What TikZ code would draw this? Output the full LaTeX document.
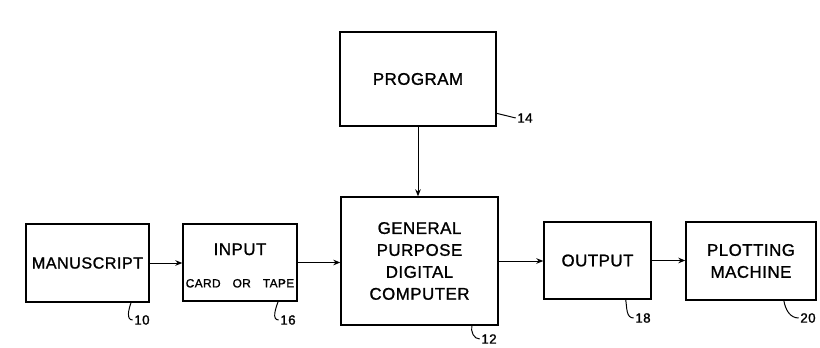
\documentclass[tikz,border=0pt]{standalone}
\usepackage{fontspec}
\setmainfont{Liberation Sans}[FakeBold=1.2,LetterSpace=3]
\usetikzlibrary{calc,arrows.meta}

\begin{document}
\begin{tikzpicture}[
    box/.style={draw,line width=1pt,inner sep=0pt,font=\fontsize{12}{15.6}\selectfont},
    arr/.style={line width=0.7pt,-{Stealth[length=5pt,width=4pt]}},
    lead/.style={line width=0.7pt},
    refnum/.style={inner sep=1pt,font=\fontsize{9.5}{10}\selectfont}]
        \useasboundingbox (0,0) rectangle (20.5,8.7);
        % blocks
        \node[box,minimum width=3.9cm,minimum height=2.35cm] (prog) at (10.45,6.725) {PROGRAM};
        \node[box,minimum width=3.925cm,minimum height=3.2cm,align=center] (gpc) at (10.4875,2.175)
            {GENERAL\\PURPOSE\\DIGITAL\\COMPUTER};
        \node[box,minimum width=3.075cm,minimum height=1.95cm] (man) at (2.1875,2.125)
            {\fontsize{11.5}{14}\selectfont MANUSCRIPT};
        \node[box,minimum width=2.85cm,minimum height=1.925cm] (inp) at (6.0,2.1375) {};
        \node[font=\fontsize{12}{14}\selectfont] (inptxt) at ($(inp.center)+(0,0.33)$) {INPUT};
        \node[font=\fontsize{8.5}{9}\selectfont] (inpcard) at ($(inp.center)+(0,-0.52)$)
            {CARD\hspace{1em}OR\hspace{1em}TAPE};
        \node[box,minimum width=2.675cm,minimum height=1.925cm] (outp) at (14.9375,2.1875) {OUTPUT};
        \node[box,minimum width=3.25cm,minimum height=1.95cm,align=center] (plot) at (18.775,2.175)
            {PLOTTING\\MACHINE};
        % flow
        \draw[arr] (prog.south) -- (prog.south |- gpc.north);
        \draw[arr] (man.east) -- (man.east -| inp.west);
        \draw[arr] (inp.east) -- (inp.east -| gpc.west);
        \draw[arr] (gpc.east) -- (gpc.east -| outp.west);
        \draw[arr] (outp.east) -- (outp.east -| plot.west);
        % reference numerals
        \coordinate (l10) at ($(man.south west)!0.85!(man.south east)$);
        \coordinate (l16) at ($(inp.south west)!0.83!(inp.south east)$);
        \coordinate (l12) at ($(gpc.south west)!0.83!(gpc.south east)$);
        \coordinate (l18) at ($(outp.south west)!0.76!(outp.south east)$);
        \coordinate (l20) at ($(plot.south west)!0.75!(plot.south east)$);
        \coordinate (l14) at ($(prog.north east)!0.86!(prog.south east)$);
        \node[refnum] (n10) at (3.55,0.70) {10};
        \node[refnum] (n16) at (7.2,0.70) {16};
        \node[refnum] (n12) at (12.225,0.225) {12};
        \node[refnum] (n18) at (16.075,0.75) {18};
        \node[refnum] (n20) at (20.2,0.75) {20};
        \node[refnum] (n14) at (13.125,5.75) {14};
        \draw[lead] (l10) to[out=250,in=180] (n10.west);
        \draw[lead] (l16) to[out=250,in=180] (n16.west);
        \draw[lead] (l12) to[out=260,in=180] (n12.west);
        \draw[lead] (l18) to[out=-80,in=180] (n18.west);
        \draw[lead] (l20) to[out=-80,in=180] (n20.west);
        \draw[lead] (l14) -- (n14.west);
    \end{tikzpicture}
\end{document}
